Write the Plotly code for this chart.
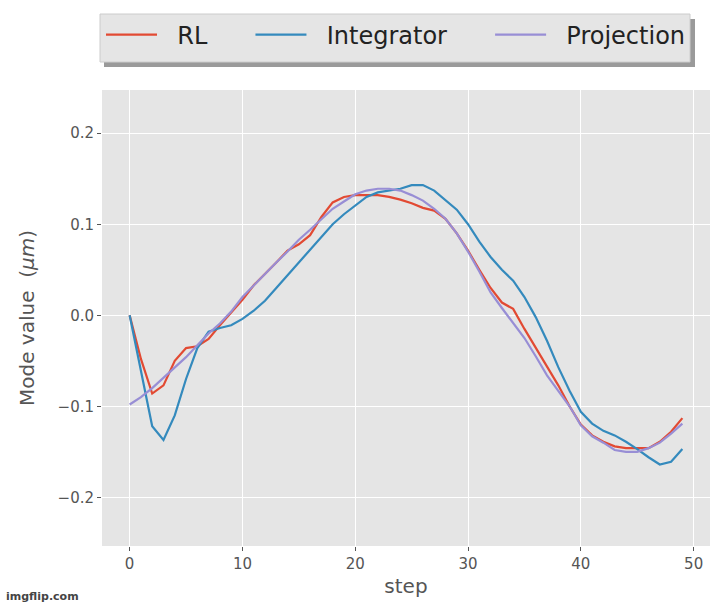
import plotly.graph_objects as go

# Mode value per step for each controller
steps = list(range(50))

rl = [0.000, -0.048, -0.086, -0.077, -0.050, -0.036, -0.034, -0.026, -0.011, 0.003,
      0.017, 0.033, 0.045, 0.058, 0.071, 0.078, 0.088, 0.108, 0.124, 0.130,
      0.132, 0.132, 0.132, 0.130, 0.127, 0.123, 0.118, 0.115, 0.106, 0.090,
      0.071, 0.050, 0.030, 0.014, 0.007, -0.015, -0.036, -0.056, -0.077, -0.100,
      -0.120, -0.132, -0.139, -0.144, -0.146, -0.146, -0.146, -0.139, -0.128, -0.113]

integrator = [0.000, -0.060, -0.122, -0.137, -0.110, -0.070, -0.036, -0.018, -0.014, -0.011,
              -0.004, 0.005, 0.016, 0.030, 0.044, 0.057, 0.071, 0.086, 0.100, 0.111,
              0.121, 0.130, 0.135, 0.137, 0.139, 0.143, 0.143, 0.137, 0.127, 0.116,
              0.100, 0.081, 0.064, 0.050, 0.038, 0.020, -0.002, -0.028, -0.057, -0.083,
              -0.106, -0.119, -0.127, -0.132, -0.139, -0.147, -0.156, -0.164, -0.161, -0.147]

projection = [-0.098, -0.090, -0.080, -0.069, -0.057, -0.046, -0.033, -0.020, -0.009, 0.004,
              0.020, 0.033, 0.045, 0.058, 0.070, 0.083, 0.094, 0.105, 0.117, 0.125,
              0.133, 0.137, 0.139, 0.139, 0.137, 0.132, 0.126, 0.117, 0.106, 0.090,
              0.070, 0.048, 0.025, 0.008, -0.008, -0.025, -0.045, -0.066, -0.083, -0.100,
              -0.121, -0.133, -0.140, -0.148, -0.150, -0.150, -0.146, -0.140, -0.130, -0.119]

x_ticks = [0, 10, 20, 30, 40, 50]
y_ticks = [0.2, 0.1, 0.0, -0.1, -0.2]
y_tick_text = ["0.2", "0.1", "0.0", "\u22120.1", "\u22120.2"]

series = [
    ("RL", rl, "#E24A33"),
    ("Integrator", integrator, "#348ABD"),
    ("Projection", projection, "#988ED5"),
]

# legend labels padded so the entries sit like a spaced single-row legend
lead = "&nbsp;" * 2
trail = "&nbsp;" * 5

fig = go.Figure()
for i, (name, vals, color) in enumerate(series):
    label = lead + name + (trail if i < len(series) - 1 else "")
    fig.add_trace(go.Scatter(
        x=steps, y=vals, mode="lines", name=label,
        line=dict(color=color, width=2.2),
    ))

W, H = 712, 603
ml, mr, mt, mb = 102, 2, 90, 57
pw, ph = W - ml - mr, H - mt - mb


def px_x(px):
    return (px - ml) / pw


def px_y(py):
    return (H - mb - py) / ph


tick_font = dict(family="DejaVu Sans", size=15, color="#555555")
title_font = dict(family="DejaVu Sans", size=20, color="#555555")

fig.update_layout(
    width=W, height=H,
    margin=dict(l=ml, r=mr, t=mt, b=mb),
    paper_bgcolor="white",
    plot_bgcolor="#E5E5E5",
    font=dict(family="DejaVu Sans", color="#555555"),
    showlegend=True,
    legend=dict(
        orientation="h",
        x=px_x(101), y=px_y(35), xanchor="left", yanchor="middle",
        bgcolor="rgba(0,0,0,0)", borderwidth=0,
        font=dict(family="DejaVu Sans", size=24, color="#222222"),
        itemwidth=51,
    ),
    xaxis=dict(
        range=[-2.45, 51.45], tickvals=x_ticks,
        showgrid=True, gridcolor="white", gridwidth=1.2,
        zeroline=False, showline=False,
        ticks="outside", ticklen=4, tickcolor="#555555",
        tickfont=tick_font,
        title=dict(text="step", font=title_font, standoff=6),
    ),
    yaxis=dict(
        range=[-0.2535, 0.2475], tickvals=y_ticks, ticktext=y_tick_text,
        showgrid=True, gridcolor="white", gridwidth=1.2,
        zeroline=False, showline=False,
        ticks="outside", ticklen=4, tickcolor="#555555",
        tickfont=tick_font,
        title=dict(text="Mode value  (<i>\u03bcm</i>)", font=title_font, standoff=17),
    ),
)

# legend frame with its drop shadow
fig.add_shape(
    type="rect", xref="paper", yref="paper",
    x0=px_x(104), x1=px_x(695), y0=px_y(67), y1=px_y(19),
    fillcolor="#9A9A9A", line=dict(width=0), layer="below",
)
fig.add_shape(
    type="rect", xref="paper", yref="paper",
    x0=px_x(100), x1=px_x(690), y0=px_y(62), y1=px_y(14),
    fillcolor="#E5E5E5", line=dict(width=1, color="#CCCCCC"), layer="below",
)

fig.add_annotation(
    text="<b>imgflip.com</b>", xref="paper", yref="paper",
    x=px_x(4), y=px_y(596), xanchor="left", yanchor="middle",
    showarrow=False, font=dict(family="DejaVu Sans", size=11, color="#444444"),
)

fig.write_html("out.html")
